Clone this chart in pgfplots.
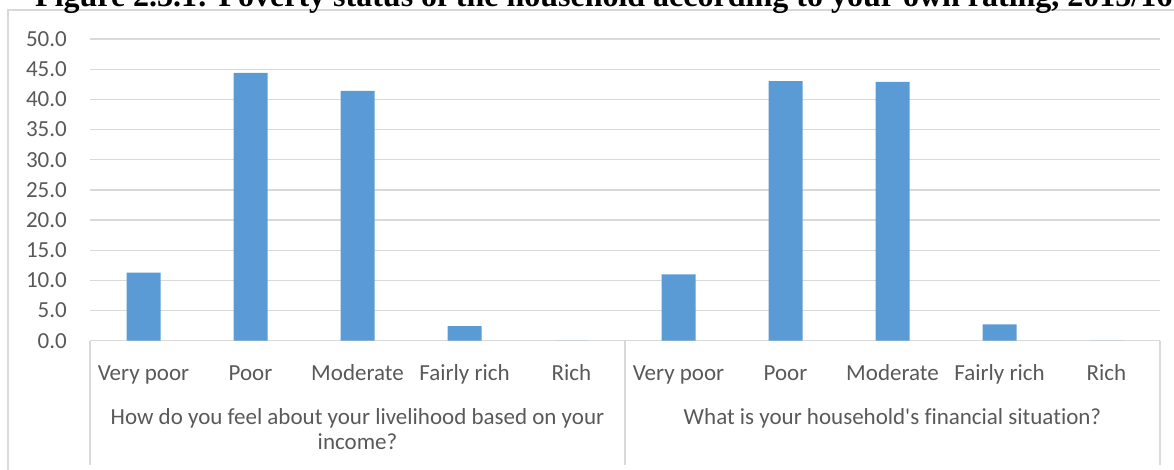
\documentclass[border=0pt]{standalone}
\usepackage{pgfplots}
\pgfplotsset{compat=1.18}
\usepackage{fontspec}
\setmainfont{Carlito}[Ligatures={TeXOff,NoCommon}]
\newfontfamily\titlefont{Liberation Serif}
\definecolor{barblue}{HTML}{5B9BD5}
\definecolor{gridgray}{HTML}{D9D9D9}
\definecolor{txt}{HTML}{595959}

\pgfplotstableread{
x val
0.5 11.3
1.5 44.4
2.5 41.4
3.5 2.4
4.5 0.0
5.5 11.0
6.5 43.0
7.5 42.9
8.5 2.7
9.5 0.0
}\datatable

\begin{document}
\begin{tikzpicture}[x=1pt,y=1pt]
\useasboundingbox (0,0) rectangle (1174,469);
\draw[gridgray, line width=1.3pt] (8,-5) -- (8,459) -- (1190,459);
\node[anchor=base west, inner sep=0pt, font=\titlefont\bfseries\fontsize{32}{36}\selectfont] at (35,462.5) {Figure 2.3.1: Poverty status of the household according to your own rating, 2015/16};
\begin{axis}[
  at={(90pt,128.3pt)}, anchor=south west,
  scale only axis, width=1070pt, height=301.7pt,
  xmin=0, xmax=10, ymin=0, ymax=50,
  ybar, bar width=34pt,
  clip=false,
  axis line style={draw=none},
  tick style={draw=none},
  ymajorgrids, grid style={gridgray, line width=1.3pt},
  ytick={0,5,...,50},
  yticklabel={\pgfmathprintnumber[fixed,fixed zerofill,precision=1]{\tick}},
  /pgf/number format/assume math mode=true,
  yticklabel style={anchor=east, inner sep=0pt, xshift=-23pt, text=txt, font=\fontsize{23}{26}\selectfont},
  xtick={0.5,1.5,...,9.5},
  xticklabels={Very poor,Poor,Moderate,Fairly rich,Rich,Very poor,Poor,Moderate,Fairly rich,Rich},
  xticklabel style={anchor=base, inner sep=0pt, yshift=-36pt, text=txt, font=\fontsize{23}{26}\selectfont},
]
\addplot[fill=barblue, draw=none] table[x=x, y=val] {\datatable};
\draw[gridgray, line width=1.3pt] (axis cs:0,0) -- ++(0pt,-124pt);
\draw[gridgray, line width=1.3pt] (axis cs:5,0) -- ++(0pt,-124pt);
\draw[gridgray, line width=1.3pt] (axis cs:10,0) -- ++(0pt,-124pt);
\node[anchor=base, align=center, inner sep=0pt, text=txt, font=\fontsize{23}{25}\selectfont] at ([yshift=-109pt]axis cs:2.5,0) {How do you feel about your livelihood based on your\\income?};
\node[anchor=base, inner sep=0pt, text=txt, font=\fontsize{23}{25}\selectfont] at ([yshift=-84pt]axis cs:7.5,0) {What is your household's financial situation?};
\end{axis}
\end{tikzpicture}
\end{document}
